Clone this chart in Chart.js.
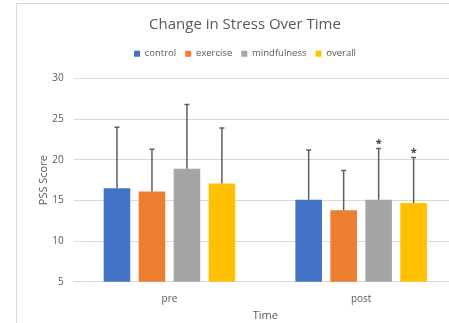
<!DOCTYPE html>
<html>
<head>
<meta charset="utf-8">
<script src="https://cdn.jsdelivr.net/npm/chart.js@4/dist/chart.umd.min.js"></script>
<style>
  html, body { margin: 0; padding: 0; background: #fff; overflow: hidden; width: 449px; height: 323px; }
  #wrap { position: absolute; left: 0; top: 0; width: 474px; height: 323px; }
  #frame { position: absolute; left: 16px; top: 3px; width: 500px; height: 400px;
           border-left: 1px solid #d9d9d9; border-top: 1px solid #d9d9d9; }
</style>
</head>
<body>
<div id="frame"></div>
<div id="wrap"><canvas id="c" width="474" height="323"></canvas></div>
<script>
// PSS score means by group, before and after the intervention
const categories = ['pre', 'post'];
const seriesNames = ['control', 'exercise', 'mindfulness', 'overall'];
const control     = [16.5, 15.1];
const exercise    = [16.1, 13.8];
const mindfulness = [18.9, 15.1];
const overall     = [17.1, 14.7];
// standard deviations (upper error bars)
const controlSd     = [7.5, 6.1];
const exerciseSd    = [5.2, 4.9];
const mindfulnessSd = [7.9, 6.3];
const overallSd     = [6.8, 5.6];
// significance markers
const controlSig     = [false, false];
const exerciseSig    = [false, false];
const mindfulnessSig = [false, true];
const overallSig     = [false, true];
const yTicks = [5, 10, 15, 20, 25, 30];

const colors = ['#4472C4', '#ED7D31', '#A5A5A5', '#FFC000'];
const values = [control, exercise, mindfulness, overall];
const sds = [controlSd, exerciseSd, mindfulnessSd, overallSd];
const sigs = [controlSig, exerciseSig, mindfulnessSig, overallSig];
const textColor = '#595959';
const fontFamily = '"Open Sans", "Liberation Sans", sans-serif';

// upper error bars with caps, plus "*" over significant changes
const errorBars = {
  id: 'errorBars',
  afterDatasetsDraw(chart) {
    const ctx = chart.ctx;
    const y = chart.scales.y;
    ctx.save();
    chart.data.datasets.forEach((ds, i) => {
      const meta = chart.getDatasetMeta(i);
      meta.data.forEach((bar, j) => {
        const top = y.getPixelForValue(ds.data[j] + ds.sd[j]);
        ctx.strokeStyle = '#5f5f5f';
        ctx.lineWidth = 1.5;
        ctx.beginPath();
        ctx.moveTo(bar.x, bar.y);
        ctx.lineTo(bar.x, top);
        ctx.moveTo(bar.x - 2.5, top);
        ctx.lineTo(bar.x + 2.5, top);
        ctx.stroke();
        if (ds.sig[j]) {
          ctx.fillStyle = '#404040';
          ctx.font = 'bold 11px ' + fontFamily;
          ctx.textAlign = 'center';
          ctx.textBaseline = 'middle';
          ctx.fillText('*', bar.x, top - 5);
        }
      });
    });
    ctx.restore();
  }
};

// extra space between the legend and the plot
const legendGap = {
  id: 'legendGap',
  beforeInit(chart) {
    const fit = chart.legend.fit;
    chart.legend.fit = function () {
      fit.bind(chart.legend)();
      this.height += 10;
    };
  }
};

new Chart(document.getElementById('c'), {
  type: 'bar',
  data: {
    labels: categories,
    datasets: seriesNames.map((name, i) => ({
      label: name,
      data: values[i],
      sd: sds[i],
      sig: sigs[i],
      backgroundColor: colors[i],
      borderWidth: 0,
      categoryPercentage: 0.73,
      barPercentage: 0.76
    }))
  },
  options: {
    responsive: false,
    animation: false,
    layout: { padding: { left: 16, right: 0, top: 9, bottom: 0 } },
    plugins: {
      title: {
        display: true,
        text: 'Change in Stress Over Time',
        color: textColor,
        font: { family: fontFamily, size: 15, weight: 'normal' },
        padding: { top: 7, bottom: 6 }
      },
      legend: {
        display: true,
        labels: {
          color: textColor,
          font: { family: fontFamily, size: 9.5 },
          boxWidth: 6,
          boxHeight: 6,
          padding: 9
        }
      },
      tooltip: { enabled: false }
    },
    scales: {
      x: {
        grid: { display: false },
        border: { color: '#d9d9d9' },
        ticks: { color: textColor, font: { family: fontFamily, size: 10 }, padding: 3 },
        title: { display: true, text: 'Time', color: textColor,
                 font: { family: fontFamily, size: 11 }, padding: { top: 1, bottom: 1 } }
      },
      y: {
        min: 5, max: 30,
        afterBuildTicks(scale) { scale.ticks = yTicks.map(v => ({ value: v })); },
        afterFit(scale) { scale.width = 57.6; },
        grid: { color: '#d9d9d9', drawTicks: false },
        border: { display: false },
        ticks: { color: textColor, font: { family: fontFamily, size: 10 }, padding: 10 },
        title: { display: true, text: 'PSS Score', color: textColor,
                 font: { family: fontFamily, size: 11 }, padding: { top: 21, bottom: 0 } }
      },
      yRight: {
        position: 'right',
        display: true,
        afterFit(scale) { scale.width = 17; },
        grid: { display: false, drawTicks: false },
        border: { display: false },
        ticks: { display: false }
      }
    }
  },
  plugins: [errorBars, legendGap]
});
</script>
</body>
</html>
